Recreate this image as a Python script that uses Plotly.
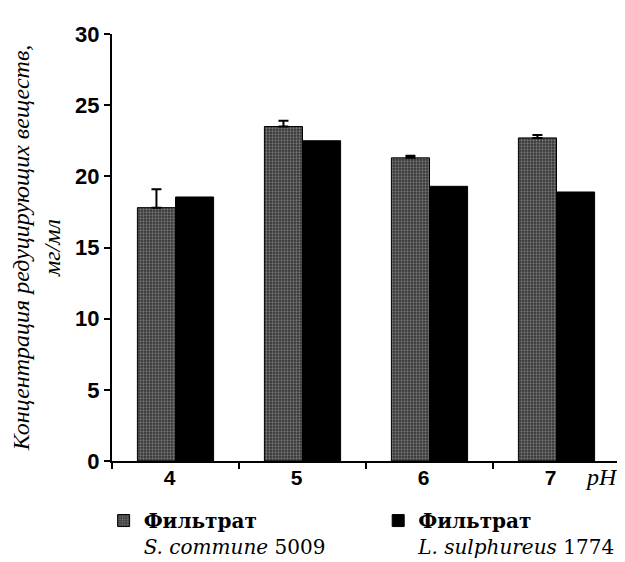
import plotly.graph_objects as go

ph_labels = ["4", "5", "6", "7"]
s_commune = [17.8, 23.5, 21.3, 22.7]
s_commune_err = [1.3, 0.4, 0.15, 0.2]
l_sulphureus = [18.55, 22.5, 19.3, 18.9]

fig = go.Figure()
fig.add_trace(go.Bar(
    x=ph_labels, y=s_commune, legend="legend",
    name="<b>Фильтрат</b><br><i>S. commune</i> 5009",
    marker=dict(color="#333333", line=dict(color="#000", width=1),
                pattern=dict(shape=".", fgcolor="#b8b8b8", size=3, solidity=0.45)),
    error_y=dict(type="data", array=s_commune_err, symmetric=False,
                 arrayminus=[0, 0, 0, 0], color="#000", thickness=2, width=5),
))
fig.add_trace(go.Bar(
    x=ph_labels, y=l_sulphureus, legend="legend2",
    name="<b>Фильтрат</b><br><i>L. sulphureus</i> 1774",
    marker=dict(color="#000", line=dict(color="#000", width=1)),
))

legend_common = dict(orientation="h", xref="container", yref="container",
                     y=0.11, xanchor="left", yanchor="top",
                     bgcolor="rgba(0,0,0,0)",
                     font=dict(family="DejaVu Serif", size=20, color="#000"),
                     valign="top", itemwidth=30)

fig.update_layout(
    width=617, height=554,
    paper_bgcolor="white", plot_bgcolor="white",
    margin=dict(l=104, r=5, t=26, b=101),
    barmode="group", bargap=0.4, bargroupgap=0,
    font=dict(family="Liberation Sans", color="#000"),
    showlegend=True,
    legend=dict(x=0.155, **legend_common),
    legend2=dict(x=0.60, **legend_common),
    xaxis=dict(type="category", range=[-0.5, 3.5], showline=True, automargin=False,
               linecolor="#000", linewidth=2, ticks="outside", tickson="boundaries",
               ticklen=6, tickwidth=2, tickcolor="#000", showgrid=False,
               ticklabelshift=-6, ticklabelstandoff=-3,
               tickfont=dict(family="Liberation Sans", size=21, color="#000", weight="bold")),
    yaxis=dict(range=[0, 30], tickvals=[0, 5, 10, 15, 20, 25, 30], showline=True,
               automargin=False,
               linecolor="#000", linewidth=2, ticks="outside", ticklen=6, tickwidth=2,
               tickcolor="#000", showgrid=False, zeroline=False,
               tickfont=dict(family="Liberation Sans", size=22, color="#000", weight="bold"),
               title=dict(text="Концентрация редуцирующих веществ,<br>мг/мл",
                          font=dict(family="Liberation Serif", size=24, color="#000", style="italic"),
                          standoff=15)),
)
fig.add_annotation(text="<i>pH</i>", xref="paper", yref="paper", x=1.0, y=0,
                   xanchor="right", yanchor="middle", yshift=-16, xshift=0, showarrow=False,
                   font=dict(family="Liberation Serif", size=24, color="#000"))
fig.write_html("out.html")
